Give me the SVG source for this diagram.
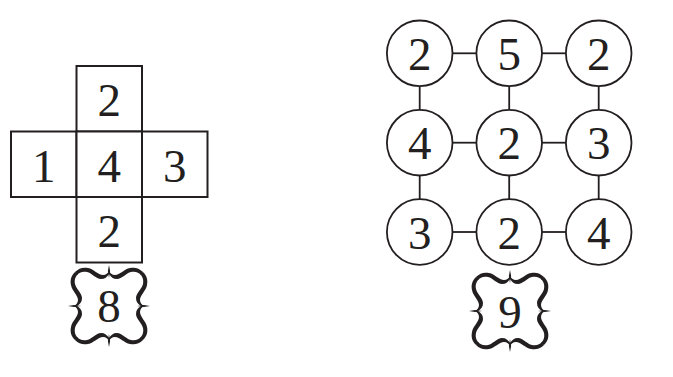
<svg xmlns="http://www.w3.org/2000/svg" xmlns:xlink="http://www.w3.org/1999/xlink" width="673" height="377" viewBox="0 0 673 377">
<style>
.cell{fill:#fff;stroke:#231f20;stroke-width:2}
.circ{fill:#fff;stroke:#231f20;stroke-width:1.8}
.num{font-family:"Liberation Serif","Times New Roman",serif;font-size:47px;fill:#231f20;text-anchor:middle}
.conn line{stroke:#231f20;stroke-width:1.8}
.orn{fill:#231f20}
</style>
<defs>
<g id="side">
<path class="orn" d="M -34,-34 C -30,-38 -26,-39 -21,-38 C -15,-37 -11,-31 -6,-31 C -3,-31 -1,-33 0,-35 L 0,-32 C -2,-29 -4,-27 -8,-27 C -13,-27 -17,-33 -22,-34 C -27,-35 -30,-33 -32,-31 Z"/>
<path class="orn" d="M 34,-34 C 30,-38 26,-39 21,-38 C 15,-37 11,-31 6,-31 C 3,-31 1,-33 0,-35 L 0,-32 C 2,-29 4,-27 8,-27 C 13,-27 17,-33 22,-34 C 27,-35 30,-33 32,-31 Z"/>
<path class="orn" d="M 0,-41 L 1.1,-35 L 0,-28 L -1.1,-35 Z"/>
</g>
<g id="frame">
<use xlink:href="#side"/>
<use xlink:href="#side" transform="rotate(90)"/>
<use xlink:href="#side" transform="rotate(180)"/>
<use xlink:href="#side" transform="rotate(270)"/>
</g>
</defs>
<rect width="673" height="377" fill="#fff"/>

<g id="cross-top"><rect class="cell" x="76.5" y="66" width="65.5" height="65.5"/><text class="num" x="109.25" y="115.5">2</text></g>
<g id="cross-left"><rect class="cell" x="11" y="131.5" width="65.5" height="65.5"/><text class="num" x="43.75" y="181.5">1</text></g>
<g id="cross-center"><rect class="cell" x="76.5" y="131.5" width="65.5" height="65.5"/><text class="num" x="109.25" y="181.5">4</text></g>
<g id="cross-right"><rect class="cell" x="142" y="131.5" width="65.5" height="65.5"/><text class="num" x="174.75" y="181.5">3</text></g>
<g id="cross-bottom"><rect class="cell" x="76.5" y="197" width="65.5" height="65.5"/><text class="num" x="109.25" y="246.5">2</text></g>

<g id="label-8"><use xlink:href="#frame" transform="translate(109,306)"/><text class="num" x="109" y="321.5">8</text></g>

<g class="conn" id="connectors">
<line x1="452.5" y1="53.3" x2="476.4" y2="53.3"/>
<line x1="542" y1="53.3" x2="565.9" y2="53.3"/>
<line x1="452.5" y1="142.7" x2="476.4" y2="142.7"/>
<line x1="542" y1="142.7" x2="565.9" y2="142.7"/>
<line x1="452.5" y1="232" x2="476.4" y2="232"/>
<line x1="542" y1="232" x2="565.9" y2="232"/>
<line x1="419.7" y1="86.1" x2="419.7" y2="109.9"/>
<line x1="509.2" y1="86.1" x2="509.2" y2="109.9"/>
<line x1="598.7" y1="86.1" x2="598.7" y2="109.9"/>
<line x1="419.7" y1="175.5" x2="419.7" y2="199.2"/>
<line x1="509.2" y1="175.5" x2="509.2" y2="199.2"/>
<line x1="598.7" y1="175.5" x2="598.7" y2="199.2"/>
</g>

<g id="n11"><circle class="circ" cx="419.7" cy="53.3" r="32.8"/><text class="num" x="419.7" y="70">2</text></g>
<g id="n12"><circle class="circ" cx="509.2" cy="53.3" r="32.8"/><text class="num" x="509.2" y="70">5</text></g>
<g id="n13"><circle class="circ" cx="598.7" cy="53.3" r="32.8"/><text class="num" x="598.7" y="70">2</text></g>
<g id="n21"><circle class="circ" cx="419.7" cy="142.7" r="32.8"/><text class="num" x="419.7" y="159.4">4</text></g>
<g id="n22"><circle class="circ" cx="509.2" cy="142.7" r="32.8"/><text class="num" x="509.2" y="159.4">2</text></g>
<g id="n23"><circle class="circ" cx="598.7" cy="142.7" r="32.8"/><text class="num" x="598.7" y="159.4">3</text></g>
<g id="n31"><circle class="circ" cx="419.7" cy="232" r="32.8"/><text class="num" x="419.7" y="248.7">3</text></g>
<g id="n32"><circle class="circ" cx="509.2" cy="232" r="32.8"/><text class="num" x="509.2" y="248.7">2</text></g>
<g id="n33"><circle class="circ" cx="598.7" cy="232" r="32.8"/><text class="num" x="598.7" y="248.7">4</text></g>

<g id="label-9"><use xlink:href="#frame" transform="translate(510,311)"/><text class="num" x="510" y="328">9</text></g>
</svg>
